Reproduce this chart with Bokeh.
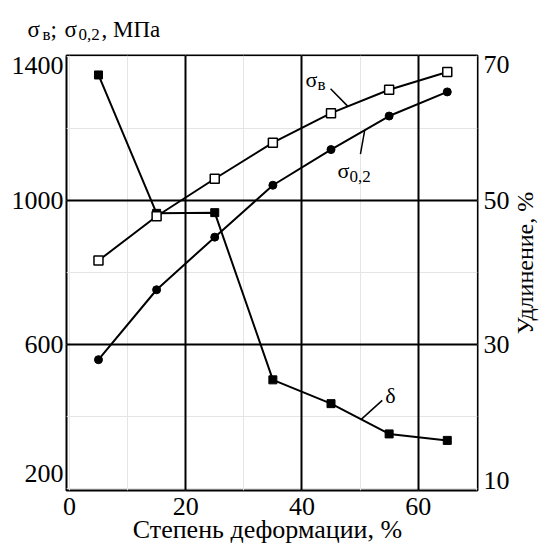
import math
import numpy as np
from bokeh.plotting import figure
from bokeh.layouts import column, row
from bokeh.models import Range1d, FixedTicker, Label, Grid
from bokeh.core.properties import value
from bokeh.embed import file_html
from bokeh.resources import INLINE

# ---- data ----
strain = [5, 15, 25, 35, 45, 55, 65]                      # Степень деформации, %
sigma_b = [833, 956, 1060, 1160, 1242, 1307, 1356]        # σв, МПа
sigma_02 = [558, 752, 898, 1042, 1141, 1234, 1301]        # σ0,2, МПа
delta = [67.4, 48.2, 48.3, 25.1, 21.8, 17.6, 16.7]        # δ, %

x_ticks = [0, 20, 40, 60]
x_tick_labels = ["0", "20", "40", "60"]
left_ticks = [200, 600, 1000, 1400]
left_tick_labels = ["200", "600", "1000", "1400"]
right_ticks = [10, 30, 50, 70]
right_tick_labels = ["10", "30", "50", "70"]
x_grid = [20, 40, 60]
y_grid = [600, 1000]

x_title = "Степень деформации, %"
right_title = "Удлинение, %"
# top-left axis title "σв; σ0,2, МПа" as (text, is_subscript) pieces
title_pieces = [("σ", False), ("в", True), (";", False), ("σ", False), ("0,2", True), (", МПа", False)]

FONT = "Liberation Serif"
PAGE_W, PAGE_H = 541, 553
T_H = 44                      # strip above the chart (top-left title)
B_H = 61                      # strip below the chart (x tick labels + title)
L_W = 64                      # strip left of the chart (left tick labels)
R_W = 62                      # strip right of the chart (right tick labels + title)
W, H = PAGE_W - L_W - R_W, PAGE_H - T_H - B_H
BL, BR, BT, BB = 2, 2, 11, 2
FW, FH = W - BL - BR, H - BT - BB

X0, X1 = -0.5, 70.2
Y0, Y1 = 195, 1402
R0, R1 = Y0 / 20, Y1 / 20
kx = FW / (X1 - X0)
ky = FH / (Y1 - Y0)
kr = FH / (R1 - R0)
TXT = dict(text_font=value(FONT), text_color="black", text_baseline="middle")


def strip(width, height, x_range=None, y_range=None):
    f = figure(width=width, height=height,
               x_range=x_range if x_range is not None else Range1d(0, width),
               y_range=y_range if y_range is not None else Range1d(height, 0),
               output_backend="svg", toolbar_location=None,
               x_axis_location=None, y_axis_location=None, min_border=0,
               min_border_left=0, min_border_right=0, min_border_top=0, min_border_bottom=0)
    f.frame_align = False
    f.title.visible = False
    for g in f.grid:
        g.visible = False
    f.outline_line_color = None
    f.background_fill_color = "white"
    f.border_fill_color = "white"
    return f


# ---- title strip ----
t = strip(PAGE_W, T_H)
piece_x = [27, 42, 50, 64, 78, 101]
for (txt, sub), px in zip(title_pieces, piece_x):
    t.text(x=[px], y=[33.8 if sub else 28.7], text=[txt], text_align="left",
           text_font_size="17px" if sub else "23px", **TXT)

# ---- left strip: left tick labels (same vertical scale as the chart frame) ----
l = strip(L_W, H, y_range=Range1d(Y0 - BB / ky, Y1 + BT / ky))
left_shift = [15, 0, 0, -9]          # px up; edge labels tucked inside the frame
l.text(x=[L_W - 1] * 4, y=[v + s / ky for v, s in zip(left_ticks, left_shift)],
       text=left_tick_labels, text_font_size="26px", text_align="right", **TXT)

# ---- right strip (full height below the title): right tick labels + title ----
r = strip(R_W, H + B_H, y_range=Range1d(R0 - (BB + B_H) / kr, R1 + BT / kr))
right_shift = [8, 0, 0, -8]
r.text(x=[4] * 4, y=[v + s / kr for v, s in zip(right_ticks, right_shift)],
       text=right_tick_labels, text_font_size="26px", text_align="left", **TXT)
r.text(x=[45], y=[(R0 + R1) / 2 + 10 / kr], text=[right_title], text_font_size="24px",
       text_align="center", angle=math.pi / 2, **TXT)

# ---- bottom strip: x tick labels + title (same horizontal scale) ----
b = strip(L_W + W, B_H, x_range=Range1d(X0 - (L_W + BL) / kx, X1 + BR / kx))
b.text(x=x_ticks, y=[14] * 4, text=x_tick_labels, text_font_size="26px",
       text_align="center", **TXT)
b.text(x=[X0 + 201 / kx], y=[37], text=[x_title], text_font_size="26px",
       text_align="center", **TXT)

# ---- main chart ----
p = figure(width=W, height=H, x_range=Range1d(X0, X1), y_range=Range1d(Y0, Y1),
           output_backend="svg", toolbar_location=None,
           x_axis_location=None, y_axis_location=None,
           min_border_left=BL, min_border_right=BR, min_border_top=BT, min_border_bottom=BB)
p.frame_align = False
p.extra_y_ranges = {"r": Range1d(R0, R1)}
p.title.visible = False
for dim, ticks in ((0, x_grid), (1, y_grid)):
    p.add_layout(Grid(dimension=dim, ticker=FixedTicker(ticks=ticks), grid_line_color="black",
                      grid_line_width=2, grid_line_alpha=1))
p.outline_line_color = "black"
p.outline_line_width = 2
p.outline_line_alpha = 1
p.background_fill_color = "white"
p.border_fill_color = "white"

# ---- series ----
p.line(strain, delta, y_range_name="r", line_color="black", line_width=2)
p.scatter(strain, delta, y_range_name="r", marker="square", size=8,
          fill_color="black", line_color="black")
p.line(strain, sigma_02, line_color="black", line_width=2)
p.scatter(strain, sigma_02, marker="circle", size=8, fill_color="black", line_color="black")
p.line(strain, sigma_b, line_color="black", line_width=2)
p.scatter(strain, sigma_b, marker="square", size=9, fill_color="white",
          line_color="black", line_width=1.5)

# ---- leader lines for curve labels ----
def leader(xa, series, dx, dy, k):
    ya = float(np.interp(xa, strain, series))
    return xa, ya, xa + dx / kx, ya + dy / k

lb = leader(47.9, sigma_b, -17.3, 17.7, ky)
l2 = leader(50.8, sigma_02, -4.3, -24, ky)
ld = leader(50.2, delta, 21, 19, kr)
p.segment(x0=[lb[0], l2[0]], y0=[lb[1], l2[1]], x1=[lb[2], l2[2]], y1=[lb[3], l2[3]],
          line_color="black", line_width=1.5)
p.segment(x0=[ld[0]], y0=[ld[1]], x1=[ld[2]], y1=[ld[3]], y_range_name="r",
          line_color="black", line_width=1.5)

def lab(x, y, text, dx, dy, size, yr="default"):
    p.add_layout(Label(x=x, y=y, x_offset=dx, y_offset=dy, text=text, y_range_name=yr,
                       text_font=FONT, text_font_size=f"{size}px", text_color="black",
                       text_baseline="middle", text_align="left"))

lab(lb[2], lb[3], "σ", -25, 9.4, 22)
lab(lb[2], lb[3], "в", -13, 3.7, 17)
lab(l2[2], l2[3], "σ", -23, -16.3, 22)
lab(l2[2], l2[3], "0,2", -11, -22, 17)
lab(ld[2], ld[3], "δ", 3, 4.7, 22, yr="r")

layout = column(t, row(column(row(l, p), b), r))
open("out.html", "w").write(file_html(layout, INLINE))
